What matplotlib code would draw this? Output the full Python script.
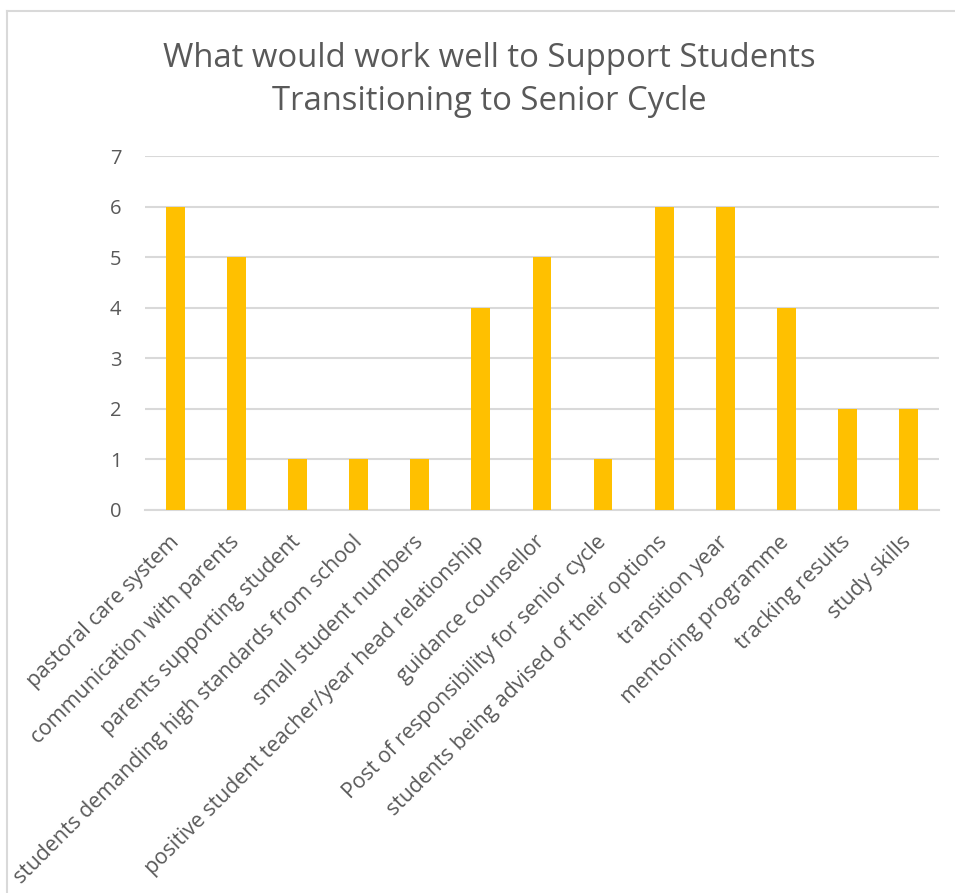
import matplotlib
matplotlib.use("Agg")
import matplotlib.pyplot as plt
from matplotlib.lines import Line2D

plt.rcParams.update({
    "font.family": ["Open Sans", "DejaVu Sans"],
    "text.color": "#595959",
    "xtick.color": "#595959",
    "ytick.color": "#595959",
})

categories = [
    "pastoral care system",
    "communication with parents",
    "parents supporting student",
    "students demanding high standards from school",
    "small student numbers",
    "positive student teacher/year head relationship",
    "guidance counsellor",
    "Post of responsibility for senior cycle",
    "students being advised of their options",
    "transition year",
    "mentoring programme",
    "tracking results",
    "study skills",
]
counts = [6, 5, 1, 1, 1, 4, 5, 1, 6, 6, 4, 2, 2]
y_ticks = [0, 1, 2, 3, 4, 5, 6, 7]

fig = plt.figure(figsize=(9.55, 8.93), dpi=100)
ax = fig.add_axes([0.152, 0.429, 0.831, 0.396])

x = range(len(categories))
ax.bar(x, counts, width=0.31, color="#FFC000", zorder=3)

ax.set_xlim(-0.5, len(categories) - 0.5)
ax.set_ylim(0, 7)
ax.set_yticks(y_ticks)
ax.yaxis.grid(True, color="#D9D9D9", linewidth=1.5, zorder=0)
ax.set_axisbelow(True)
for s in ["top", "right", "left"]:
    ax.spines[s].set_visible(False)
ax.spines["bottom"].set_color("#D9D9D9")
ax.spines["bottom"].set_linewidth(1.5)

ax.set_xticks(list(x))
ax.set_xticklabels(categories, rotation=45, ha="right", va="center",
                   rotation_mode="anchor", fontsize=15.3)
ax.tick_params(axis="x", length=0, pad=21)
ax.tick_params(axis="y", length=0, pad=17, labelsize=14.5)

fig.text(0.512, 0.910, "What would work well to Support Students\nTransitioning to Senior Cycle",
         ha="center", va="center", fontsize=23.7, linespacing=1.4)

# chart frame (only top and left edges visible in the reference)
fig.add_artist(Line2D([0.0073, 1.0], [0.9877, 0.9877], color="#D9D9D9", linewidth=1.5))
fig.add_artist(Line2D([0.0073, 0.0073], [0.0, 0.9877], color="#D9D9D9", linewidth=1.5))

fig.savefig("out.png", dpi=100)
